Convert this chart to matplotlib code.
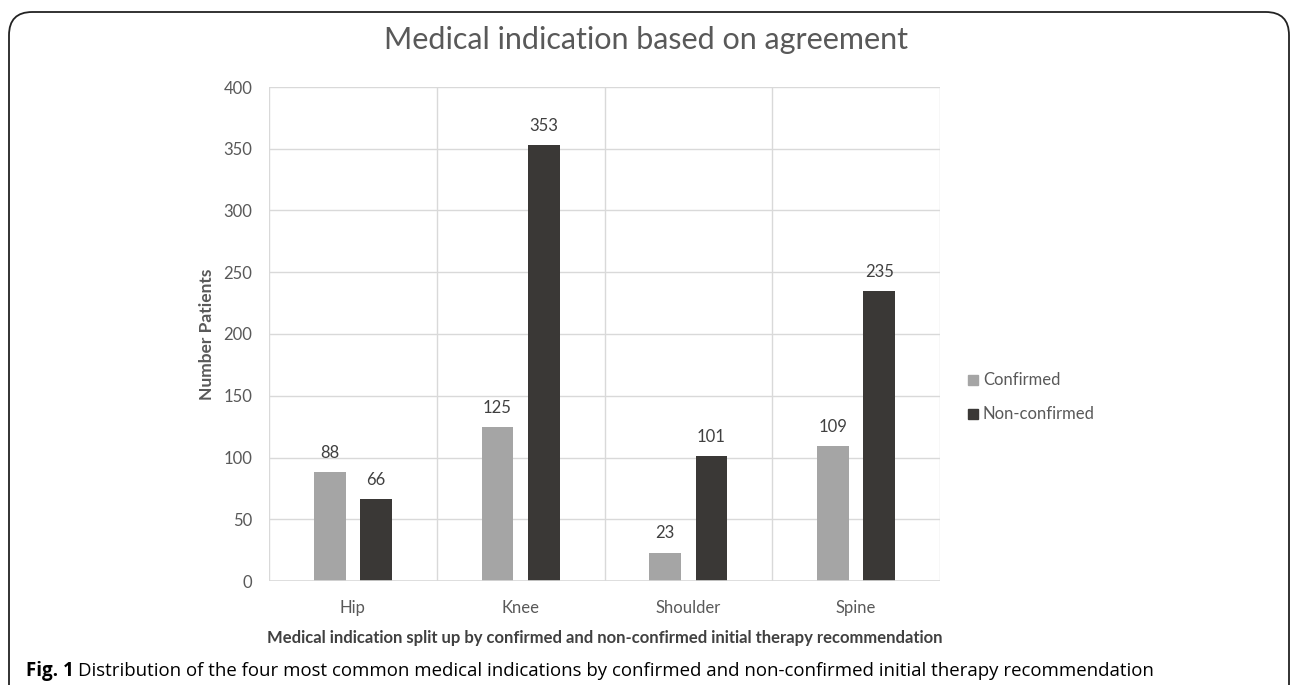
import numpy as np
import matplotlib.pyplot as plt
from matplotlib.patches import FancyBboxPatch

categories = ["Hip", "Knee", "Shoulder", "Spine"]
confirmed = [88, 125, 23, 109]
non_confirmed = [66, 353, 101, 235]
series_names = ["Confirmed", "Non-confirmed"]
y_ticks = [0, 50, 100, 150, 200, 250, 300, 350, 400]

TEXT = "#595959"
GRID = "#d9d9d9"
C_CONF = "#a5a5a5"
C_NON = "#3a3836"

plt.rcParams["font.family"] = ["Lato", "DejaVu Sans"]

fig = plt.figure(figsize=(12.92, 6.85), dpi=100)
ax = fig.add_axes([269 / 1292, 1 - 581 / 685, (940 - 269) / 1292, (581 - 87) / 685])

x = np.arange(len(categories))
w = 0.19
off = 0.138
b1 = ax.bar(x - off, confirmed, w, color=C_CONF, zorder=3)
b2 = ax.bar(x + off, non_confirmed, w, color=C_NON, zorder=3)

for bars, vals in ((b1, confirmed), (b2, non_confirmed)):
    for rect, v in zip(bars, vals):
        ax.text(rect.get_x() + rect.get_width() / 2, v + 9, str(v),
                ha="center", va="bottom", fontsize=12, color="#404040")

ax.set_xlim(-0.5, len(categories) - 0.5)
ax.set_ylim(0, 400)
ax.set_yticks(y_ticks)
ax.set_xticks(x)
ax.set_xticklabels(categories)
ax.tick_params(axis="both", length=0, labelsize=12, colors=TEXT)
ax.tick_params(axis="y", pad=12)
ax.tick_params(axis="x", pad=14)

ax.grid(axis="y", color=GRID, linewidth=1, zorder=0)
for b in np.arange(-0.5, len(categories), 1.0):
    ax.axvline(b, color=GRID, linewidth=1, zorder=0)
for s in ax.spines.values():
    s.set_visible(False)
ax.axhline(0, color=GRID, linewidth=1.2, zorder=4)

ax.set_ylabel("Number Patients", fontsize=12.5, fontweight="bold", color=TEXT, labelpad=6)
ax.set_xlabel("Medical indication split up by confirmed and non-confirmed initial therapy recommendation",
              fontsize=12, fontweight="bold", color="#404040", labelpad=10)

fig.text(0.5, 1 - 40 / 685, "Medical indication based on agreement", ha="center", va="center",
         fontsize=22, color=TEXT)

# legend drawn by hand so the markers sit like the spreadsheet legend
for i, (name, col) in enumerate(zip(series_names, [C_CONF, C_NON])):
    yy = 1 - (380 + 34 * i) / 685
    fig.patches.append(plt.Rectangle((968 / 1292, yy - 5 / 685), 10 / 1292, 10 / 685,
                                     transform=fig.transFigure, color=col))
    fig.text(983 / 1292, yy, name, va="center", ha="left", fontsize=12, color=TEXT)

frame = FancyBboxPatch((9 / 1292, -0.1), (1289 - 9) / 1292, (1 - 12 / 685) + 0.1,
                       boxstyle="round,pad=0,rounding_size=0.018", transform=fig.transFigure,
                       fill=False, edgecolor="#222222", linewidth=1.3, mutation_aspect=1292 / 685)
fig.patches.append(frame)

fig.text(26 / 1292, 1 - 671 / 685, "Fig. 1", fontsize=13.5, fontweight="bold", va="center",
         family=["Open Sans", "DejaVu Sans"])
fig.text(78 / 1292, 1 - 671 / 685,
         "Distribution of the four most common medical indications by confirmed and non-confirmed initial therapy recommendation",
         fontsize=13.4, va="center", family=["Open Sans", "DejaVu Sans"])

fig.savefig("out.png", dpi=100)
